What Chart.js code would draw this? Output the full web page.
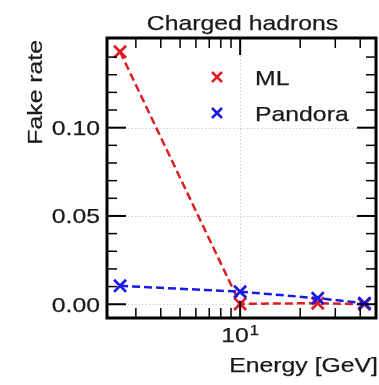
<!DOCTYPE html>
<html>
<head>
<meta charset="utf-8">
<script src="https://cdn.jsdelivr.net/npm/chart.js@4.4.1/dist/chart.umd.min.js"></script>
<style>
  body { margin: 0; background: white; }
  #wrap { width: 379px; height: 385px; }
</style>
</head>
<body>
<div id="wrap"><canvas id="fake-graph" width="379" height="385"></canvas></div>
<script>
// data
const energy = [2.5, 10, 24.5, 42];
const mlFake = [0.143, 0.0002, 0.0006, 0.0];
const pandoraFake = [0.0104, 0.0071, 0.0034, 0.0006];

const seriesNames = ['ML', 'Pandora'];
const seriesColors = ['rgb(222,30,34)', 'rgb(26,26,226)'];

const yMajorTicks = [0.0, 0.05, 0.10];
const yTickLabels = ['0.00', '0.05', '0.10'];
const yMinorTicks = [0.01, 0.02, 0.03, 0.04, 0.06, 0.07, 0.08, 0.09, 0.11, 0.12, 0.13, 0.14];
const xMajorTicks = [10];
const xTickLabels = [['10', '1']];
const xMinorTicks = [3, 4, 5, 6, 7, 8, 9, 20, 30, 40];

const titleText = 'Charged hadrons';
const xTitle = 'Energy [GeV]';
const yTitle = 'Fake rate';

const FONT = '"Liberation Sans", Arial, sans-serif';
const SX = 1.18; // text is drawn a bit wider than Arial

function toPoints(xs, ys) {
    let pts = [];
    for (let i = 0; i < xs.length; i++) {
        pts.push({ x: xs[i], y: ys[i] });
    }
    return pts;
}

function wideText(ctx, text, x, y, size, align, rotate) {
    ctx.save();
    ctx.translate(x, y);
    if (rotate) ctx.rotate(-Math.PI / 2);
    ctx.scale(SX, 1);
    ctx.font = size + 'px ' + FONT;
    ctx.fillStyle = '#1a1a1a';
    ctx.strokeStyle = '#1a1a1a';
    ctx.lineWidth = 0.25;
    ctx.textAlign = align;
    ctx.textBaseline = 'alphabetic';
    ctx.fillText(text, 0, 0);
    ctx.strokeText(text, 0, 0);
    ctx.restore();
}

const gridPlugin = {
    id: 'grid_lines',
    beforeDatasetsDraw(chart) {
        let ctx = chart.ctx;
        let a = chart.chartArea;
        let xs = chart.scales.x, ys = chart.scales.y;
        ctx.save();
        ctx.strokeStyle = '#cfcfcf';
        ctx.lineWidth = 1;
        ctx.setLineDash([1.5, 2]);
        for (let v of yMajorTicks) {
            let py = Math.round(ys.getPixelForValue(v)) + 0.5;
            ctx.beginPath(); ctx.moveTo(a.left, py); ctx.lineTo(a.right, py); ctx.stroke();
        }
        for (let v of xMajorTicks) {
            let px = Math.round(xs.getPixelForValue(v)) + 0.5;
            ctx.beginPath(); ctx.moveTo(px, a.top); ctx.lineTo(px, a.bottom); ctx.stroke();
        }
        ctx.restore();
    }
};

const framePlugin = {
    id: 'frame_ticks',
    afterDraw(chart) {
        let ctx = chart.ctx;
        let a = chart.chartArea;
        let xs = chart.scales.x, ys = chart.scales.y;
        ctx.save();
        ctx.strokeStyle = '#000';
        ctx.setLineDash([]);
        // ticks pointing inward on all four sides
        let tick = (px, py, dx, dy) => { ctx.beginPath(); ctx.moveTo(px, py); ctx.lineTo(px + dx, py + dy); ctx.stroke(); };
        ctx.lineWidth = 1.5;
        for (let v of yMinorTicks) {
            let py = ys.getPixelForValue(v);
            tick(a.left, py, 10, 0); tick(a.right, py, -10, 0);
        }
        for (let v of xMinorTicks) {
            let px = xs.getPixelForValue(v);
            tick(px, a.bottom, 0, -10); tick(px, a.top, 0, 10);
        }
        ctx.lineWidth = 2;
        for (let v of yMajorTicks) {
            let py = ys.getPixelForValue(v);
            tick(a.left, py, 19, 0); tick(a.right, py, -19, 0);
        }
        for (let v of xMajorTicks) {
            let px = xs.getPixelForValue(v);
            tick(px, a.bottom, 0, -17); tick(px, a.top, 0, 17);
        }
        // frame
        ctx.lineWidth = 3;
        ctx.strokeRect(a.left, a.top, a.right - a.left, a.bottom - a.top);
        ctx.restore();

        // tick labels
        for (let i = 0; i < yMajorTicks.length; i++) {
            let py = ys.getPixelForValue(yMajorTicks[i]);
            wideText(ctx, yTickLabels[i], a.left - 7, py + 7.5, 21, 'right', false);
        }
        for (let i = 0; i < xMajorTicks.length; i++) {
            let px = xs.getPixelForValue(xMajorTicks[i]);
            ctx.font = '21px ' + FONT;
            let w1 = ctx.measureText(xTickLabels[i][0]).width * SX;
            ctx.font = '14px ' + FONT;
            let w2 = ctx.measureText(xTickLabels[i][1]).width * SX;
            let x0 = px - (w1 + w2 + 1) / 2;
            wideText(ctx, xTickLabels[i][0], x0, a.bottom + 24, 21, 'left', false);
            wideText(ctx, xTickLabels[i][1], x0 + w1 + 1, a.bottom + 17, 14, 'left', false);
        }

        // titles
        wideText(ctx, titleText, (a.left + a.right) / 2 + 1, 30, 21, 'center', false);
        wideText(ctx, xTitle, 378, 372, 21, 'right', false);
        wideText(ctx, yTitle, 42, 40, 21, 'right', true);

        // legend
        let rows = [77, 113];
        for (let i = 0; i < seriesNames.length; i++) {
            let cx = 217, cy = rows[i];
            ctx.save();
            ctx.strokeStyle = seriesColors[i];
            ctx.lineWidth = 2.5;
            ctx.beginPath();
            ctx.moveTo(cx - 5, cy - 5); ctx.lineTo(cx + 5, cy + 5);
            ctx.moveTo(cx - 5, cy + 5); ctx.lineTo(cx + 5, cy - 5);
            ctx.stroke();
            ctx.restore();
            wideText(ctx, seriesNames[i], 255, cy + 7.5, 21, 'left', false);
        }
    }
};

function plot() {
    let ctx = document.getElementById('fake-graph');
    let chart = new Chart(ctx, {
        type: 'line',
        data: {
            datasets: [
                {
                    label: seriesNames[0],
                    data: toPoints(energy, mlFake),
                    borderColor: seriesColors[0],
                    backgroundColor: seriesColors[0],
                    borderWidth: 2.5,
                    borderDash: [8, 4],
                    pointStyle: 'crossRot',
                    pointRadius: 8.5,
                    pointBorderWidth: 2.8,
                    fill: false,
                    tension: 0,
                    order: 2
                },
                {
                    label: seriesNames[1],
                    data: toPoints(energy, pandoraFake),
                    borderColor: seriesColors[1],
                    backgroundColor: seriesColors[1],
                    borderWidth: 2.5,
                    borderDash: [8, 4],
                    pointStyle: 'crossRot',
                    pointRadius: 8.5,
                    pointBorderWidth: 2.8,
                    fill: false,
                    tension: 0,
                    order: 1
                }
            ]
        },
        options: {
            responsive: false,
            animation: false,
            layout: { autoPadding: false, padding: { left: 107, right: 3, top: 38, bottom: 67 } },
            scales: {
                x: { type: 'logarithmic', min: 2.15, max: 48, display: false },
                y: { type: 'linear', min: -0.0078, max: 0.1508, display: false }
            },
            plugins: {
                legend: { display: false },
                title: { display: false },
                tooltip: { enabled: false }
            }
        },
        plugins: [gridPlugin, framePlugin]
    });
}
plot();
</script>
</body>
</html>
